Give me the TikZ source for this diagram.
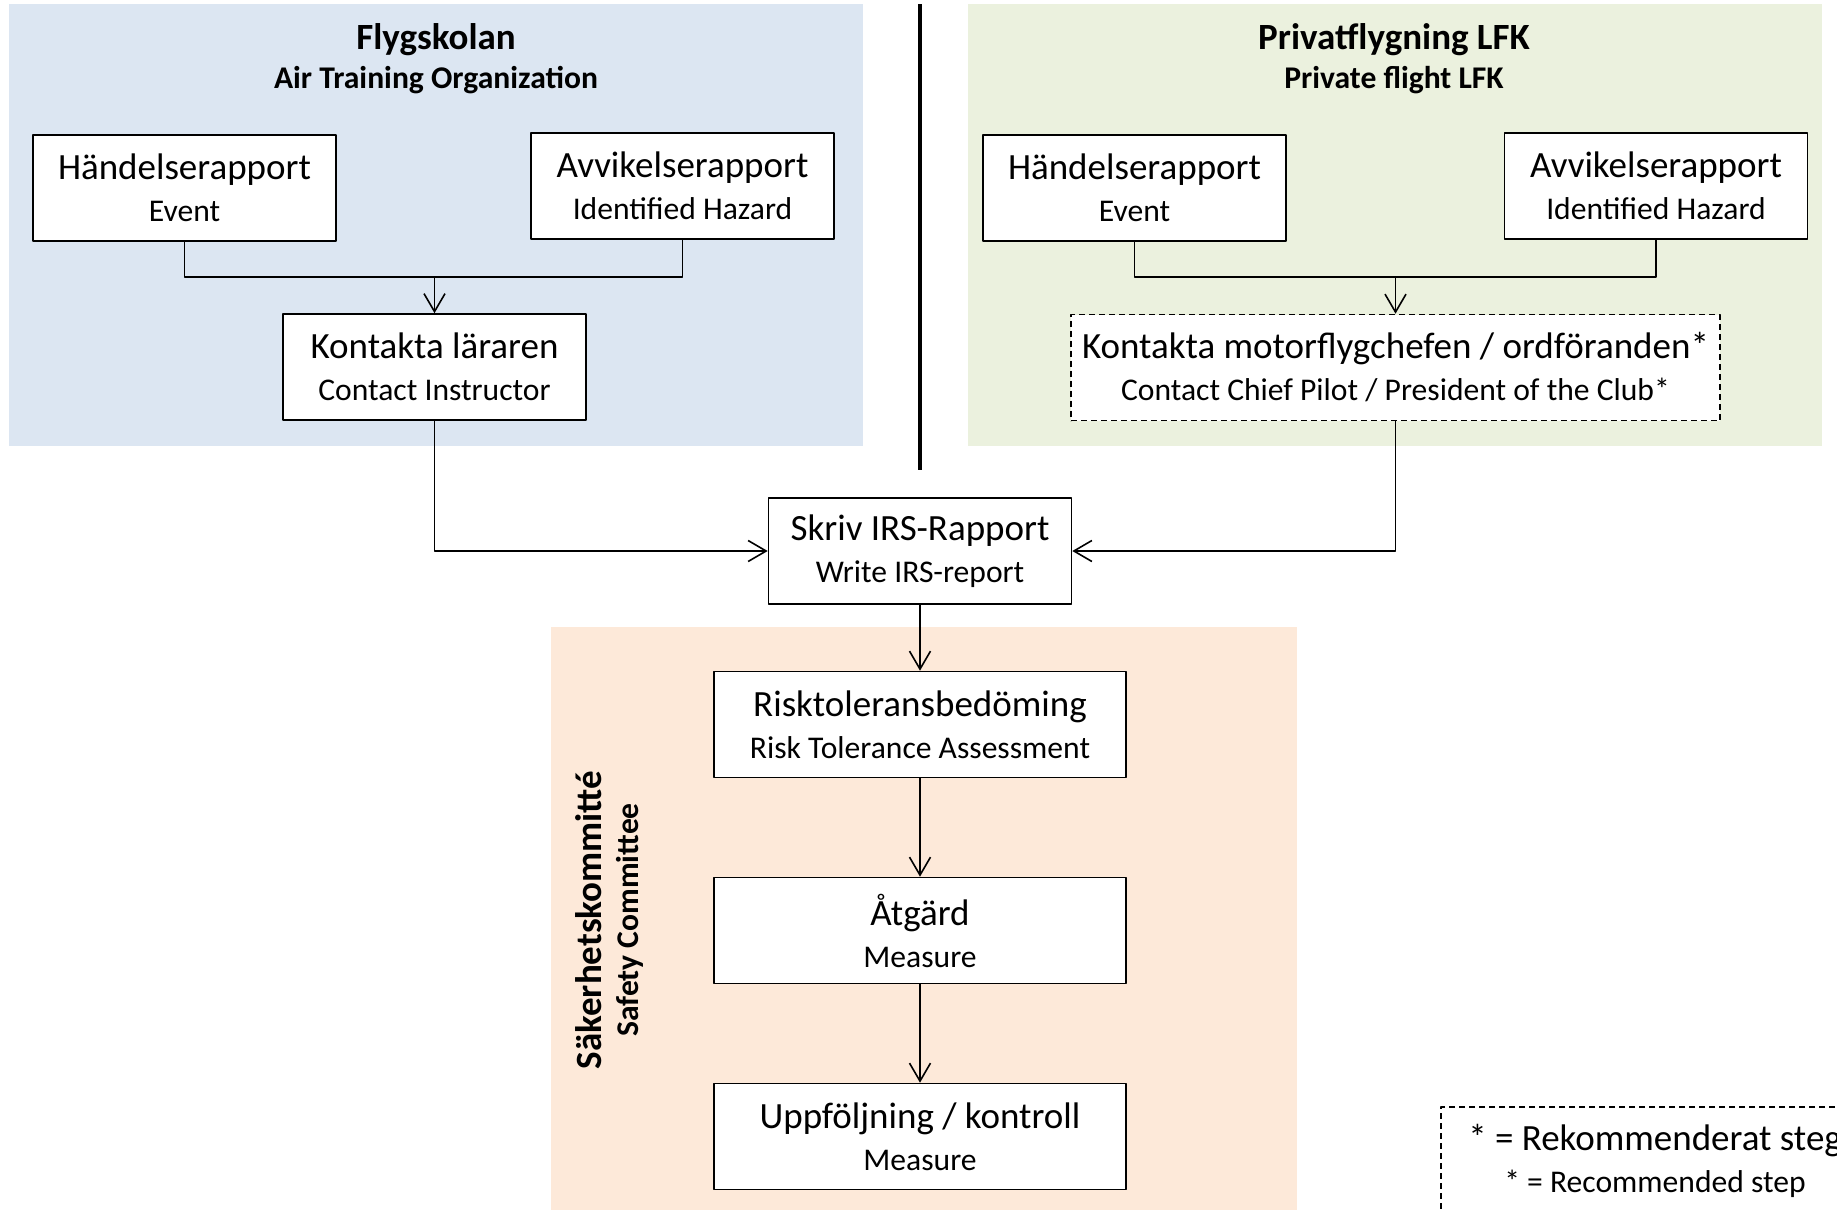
\documentclass[tikz,border=0pt]{standalone}
\usepackage{fontspec}
\setmainfont{Carlito}
\usetikzlibrary{arrows.meta}
\definecolor{atoblue}{HTML}{DCE6F2}
\definecolor{lfkgreen}{HTML}{EBF1DE}
\definecolor{safepeach}{HTML}{FDE9D9}
\newcommand{\twoline}[2]{{\fontsize{18.5}{21}\selectfont #1}\\{\fontsize{15.8}{21}\selectfont #2}}

\begin{document}
\begin{tikzpicture}[x=0.5pt,y=-0.5pt,line join=round,line width=0.8pt,
    >={Straight Barb[length=9pt,width=10.5pt]},
    box/.style={draw,fill=white,align=center,inner sep=0pt,
        font=\fontsize{15.8}{21}\selectfont,
        minimum width=151.5pt,minimum height=53pt},
    widebox/.style={box,minimum width=206pt},
    dashbox/.style={box,dash pattern=on 3pt off 2pt},
    title/.style={font=\bfseries\fontsize{18.5}{22}\selectfont},
    subtitle/.style={font=\bfseries\fontsize{15.8}{19}\selectfont}]
  \useasboundingbox (0,0) rectangle (1837,1210);
  % backgrounds
  \fill[atoblue] (9,4) rectangle (863,446);
  \fill[lfkgreen] (968,4) rectangle (1822,446);
  \fill[safepeach] (551,627) rectangle (1297,1215);
  \draw[line width=2.3pt] (920,4) -- (920,470);

  % Flygskolan
  \node[title] (tL) at (436,40) {Flygskolan};
  \node[subtitle] (sL) at (436,80) {Air Training Organization};
  \node[box] (hL) at (184.5,188) {\twoline{Händelserapport}{Event}};
  \node[box] (aL) at (682.5,186) {\twoline{Avvikelserapport}{Identified Hazard}};
  \node[box] (kL) at (434.5,367) {\twoline{Kontakta läraren}{Contact Instructor}};
  \coordinate (jL) at (434.5,277);

  % Privatflygning
  \node[title] (tR) at (1394,40) {Privatflygning LFK};
  \node[subtitle] (sR) at (1394,80) {Private flight LFK};
  \node[box] (hR) at (1134.5,188) {\twoline{Händelserapport}{Event}};
  \node[box] (aR) at (1656,186) {\twoline{Avvikelserapport}{Identified Hazard}};
  \node[dashbox,minimum width=324.5pt] (kR) at (1395.5,367.5)
      {\twoline{Kontakta motorflygchefen / ordföranden*}{Contact Chief Pilot / President of the Club*}};
  \coordinate (jR) at (1395.5,277);

  % IRS and safety committee
  \node[box] (irs) at (920,551) {\twoline{Skriv IRS-Rapport}{Write IRS-report}};
  \node[widebox] (risk) at (920,724.5) {\twoline{Risktoleransbedöming}{Risk Tolerance Assessment}};
  \node[widebox] (atg) at (920,930.5) {\twoline{Åtgärd}{Measure}};
  \node[widebox] (upp) at (920,1136.5) {\twoline{Uppföljning / kontroll}{Measure}};
  \node[title,rotate=90] (sk) at (589,920) {Säkerhetskommitté};
  \node[subtitle,rotate=90] (sc) at (630,920) {Safety Committee};

  % legend
  \node[dashbox,minimum width=214pt,minimum height=54pt] (key) at (1655,1161)
      {\twoline{* = Rekommenderat steg}{* = Recommended step}};

  % connectors
  \draw (hL.south) |- (jL) -| (aL.south);
  \draw[->] (jL) -- (kL);
  \draw (hR.south) |- (jR) -| (aR.south);
  \draw[->] (jR) -- (kR);
  \draw[->] (kL) |- (irs);
  \draw[->] (kR) |- (irs);
  \foreach \a/\b in {irs/risk,risk/atg,atg/upp}
    \draw[->] (\a) -- (\b);
\end{tikzpicture}
\end{document}
